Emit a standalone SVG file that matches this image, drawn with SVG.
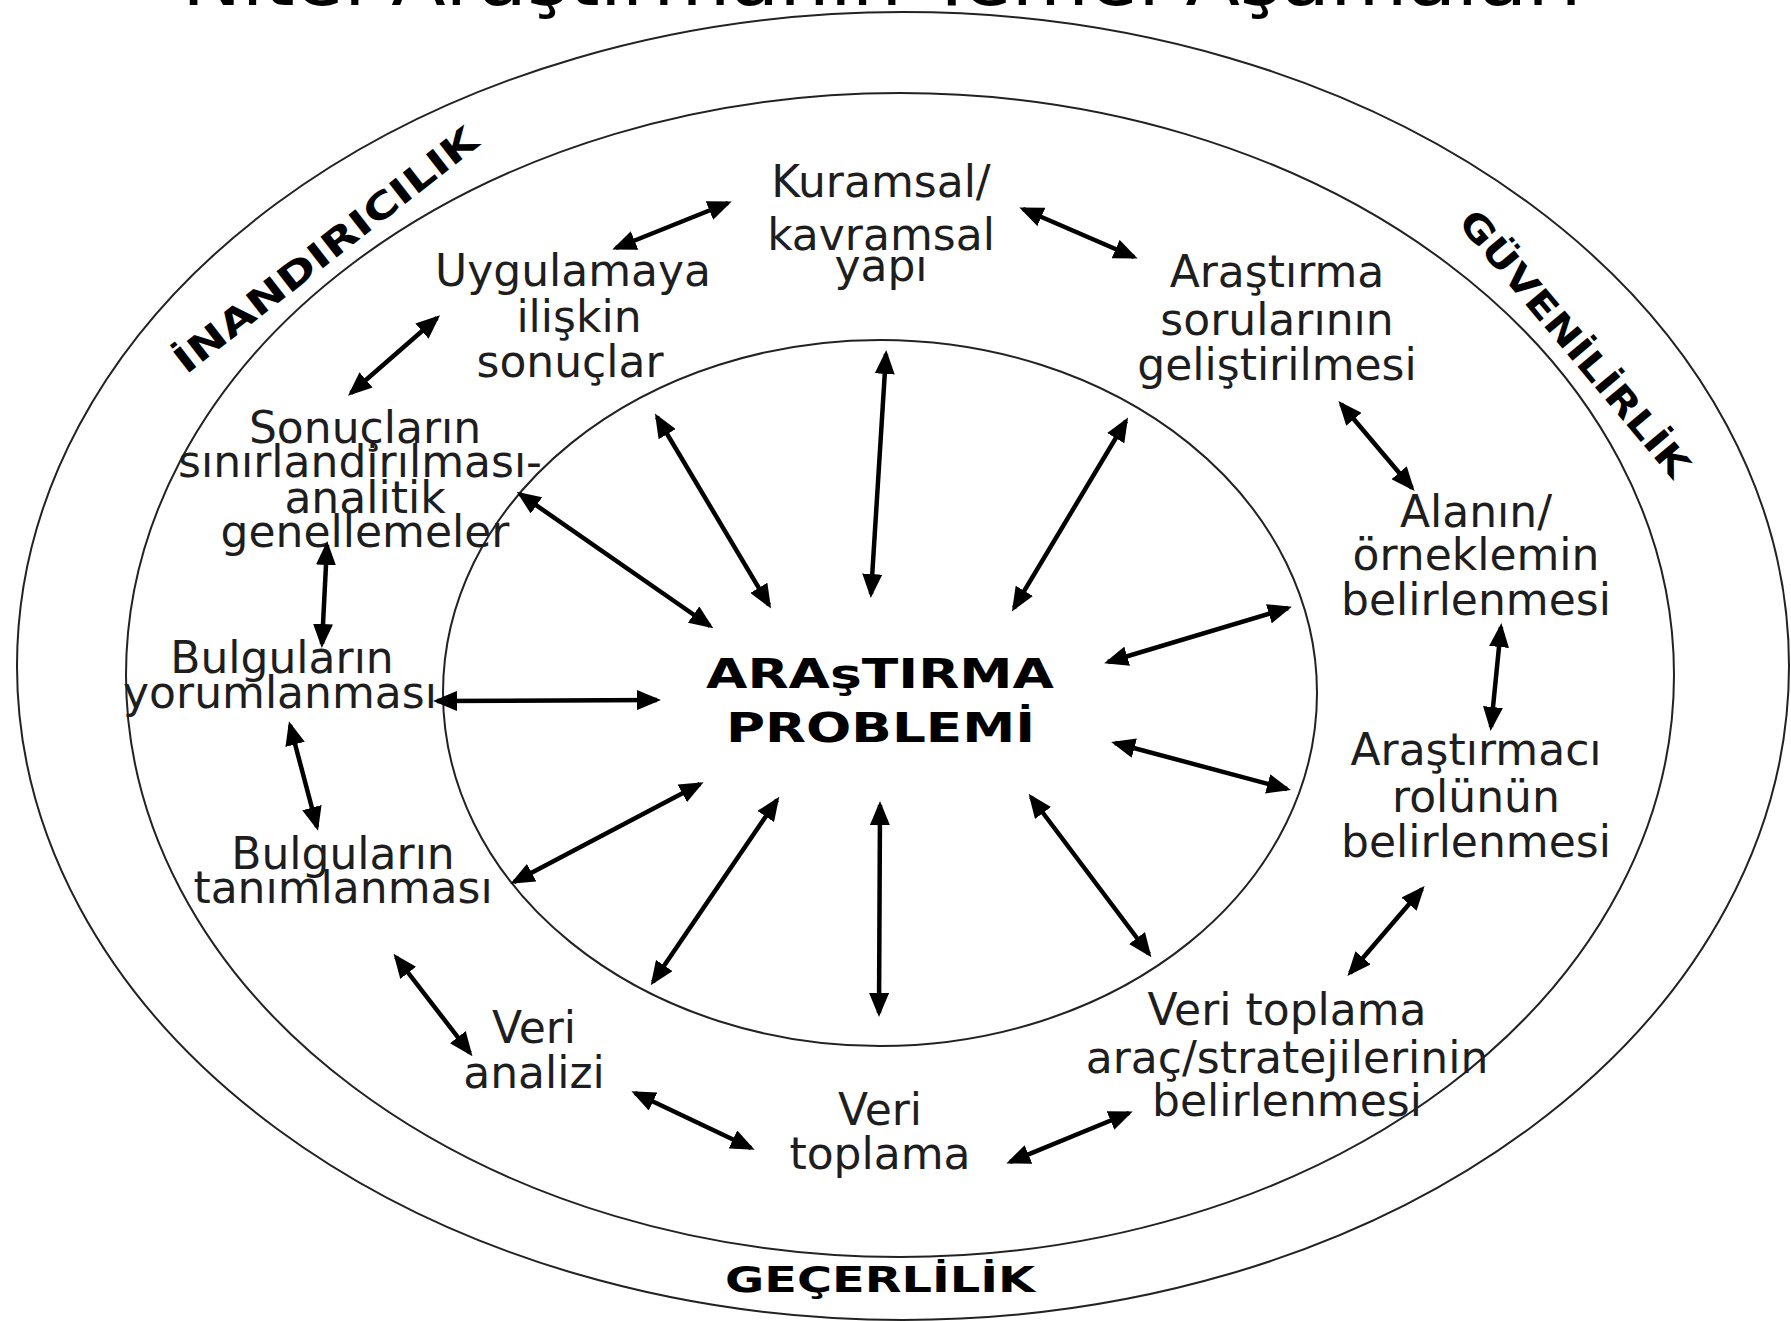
<svg xmlns="http://www.w3.org/2000/svg" width="1791" height="1321" viewBox="0 0 1791 1321">
<style>
.ring{fill:none;stroke:#222;stroke-width:2}
.t{font-family:"DejaVu Sans","Liberation Sans",sans-serif;font-size:44px;fill:#1e1e1e;text-anchor:middle}
.b{font-family:"DejaVu Sans","Liberation Sans",sans-serif;font-weight:bold;fill:#000}
.c line{stroke:#000;stroke-width:4.5;marker-start:url(#ah);marker-end:url(#ah)}
</style>
<defs>
<marker id="ah" markerWidth="24" markerHeight="20" refX="20" refY="10" orient="auto-start-reverse" markerUnits="userSpaceOnUse"><path d="M0,0 L24,10 L0,20 z" fill="#000"/></marker>
</defs>
<rect width="1791" height="1321" fill="#fff"/>
<text x="182" y="5" font-family="DejaVu Sans, sans-serif" font-size="75" fill="#000" textLength="1400" lengthAdjust="spacingAndGlyphs">Nitel Araştırmanın Temel Aşamaları</text>
<g id="rings">
<ellipse class="ring" cx="903" cy="666" rx="886" ry="654"/>
<ellipse class="ring" cx="900" cy="675" rx="774" ry="582"/>
<ellipse class="ring" cx="880" cy="693" rx="437" ry="353"/>
</g>
<g id="inandiricilik"><text class="b" font-size="36" transform="translate(186,375) rotate(-38)" x="0" y="0" textLength="374" lengthAdjust="spacingAndGlyphs">İNANDIRICILIK</text></g>
<g id="guvenilirlik"><text class="b" font-size="36" transform="translate(1457,223) rotate(50)" x="0" y="0" textLength="336" lengthAdjust="spacingAndGlyphs">GÜVENİLİRLİK</text></g>
<g id="gecerlilik"><text class="b" font-size="36" x="725" y="1292" textLength="310" lengthAdjust="spacingAndGlyphs">GEÇERLİLİK</text></g>
<g id="center"><text class="b" font-size="40" x="706" y="688" textLength="348" lengthAdjust="spacingAndGlyphs">ARAşTIRMA</text><text class="b" font-size="40" x="726" y="742" textLength="309" lengthAdjust="spacingAndGlyphs">PROBLEMİ</text></g>
<g id="n-kuramsal"><text class="t" x="881" y="197">Kuramsal/</text><text class="t" x="881" y="250">kavramsal</text><text class="t" x="881" y="281">yapı</text></g>
<g id="n-arastirma-sorulari"><text class="t" x="1277" y="287">Araştırma</text><text class="t" x="1277" y="335">sorularının</text><text class="t" x="1277" y="380">geliştirilmesi</text></g>
<g id="n-alan"><text class="t" x="1476" y="527">Alanın/</text><text class="t" x="1476" y="570">örneklemin</text><text class="t" x="1476" y="615">belirlenmesi</text></g>
<g id="n-arastirmaci"><text class="t" x="1476" y="765">Araştırmacı</text><text class="t" x="1476" y="812">rolünün</text><text class="t" x="1476" y="857">belirlenmesi</text></g>
<g id="n-veri-toplama-arac"><text class="t" x="1287" y="1025">Veri toplama</text><text class="t" x="1287" y="1073">araç/stratejilerinin</text><text class="t" x="1287" y="1116">belirlenmesi</text></g>
<g id="n-veri-toplama"><text class="t" x="880" y="1125">Veri</text><text class="t" x="880" y="1169">toplama</text></g>
<g id="n-veri-analizi"><text class="t" x="534" y="1043">Veri</text><text class="t" x="534" y="1088">analizi</text></g>
<g id="n-bulgu-tanim"><text class="t" x="343" y="869">Bulguların</text><text class="t" x="343" y="903">tanımlanması</text></g>
<g id="n-bulgu-yorum"><text class="t" x="282" y="673">Bulguların</text><text class="t" x="280" y="708">yorumlanması</text></g>
<g id="n-sonuclar"><text class="t" x="365" y="443">Sonuçların</text><text class="t" x="360" y="477">sınırlandirılması-</text><text class="t" x="365" y="513">analitik</text><text class="t" x="365" y="547">genellemeler</text></g>
<g id="n-uygulama"><text class="t" x="573" y="286">Uygulamaya</text><text class="t" x="579" y="332">ilişkin</text><text class="t" x="570" y="377">sonuçlar</text></g>
<g id="connectors" class="c">
<line x1="886" y1="354" x2="871" y2="594"/>
<line x1="657" y1="417" x2="769" y2="605"/>
<line x1="520" y1="494" x2="710" y2="626"/>
<line x1="437" y1="701" x2="657" y2="700"/>
<line x1="514" y1="882" x2="700" y2="784"/>
<line x1="653" y1="982" x2="777" y2="800"/>
<line x1="880" y1="805" x2="879" y2="1013"/>
<line x1="1031" y1="797" x2="1149" y2="954"/>
<line x1="1115" y1="743" x2="1287" y2="789"/>
<line x1="1108" y1="662" x2="1288" y2="608"/>
<line x1="1014" y1="608" x2="1126" y2="421"/>
<line x1="616" y1="248" x2="728" y2="203"/>
<line x1="1023" y1="209" x2="1134" y2="257"/>
<line x1="1341" y1="404" x2="1412" y2="488"/>
<line x1="1501" y1="627" x2="1491" y2="727"/>
<line x1="1422" y1="889" x2="1350" y2="973"/>
<line x1="1129" y1="1113" x2="1010" y2="1162"/>
<line x1="635" y1="1093" x2="751" y2="1148"/>
<line x1="396" y1="957" x2="470" y2="1053"/>
<line x1="290" y1="725" x2="317" y2="827"/>
<line x1="327" y1="545" x2="322" y2="644"/>
<line x1="437" y1="318" x2="351" y2="393"/>
</g>
</svg>
